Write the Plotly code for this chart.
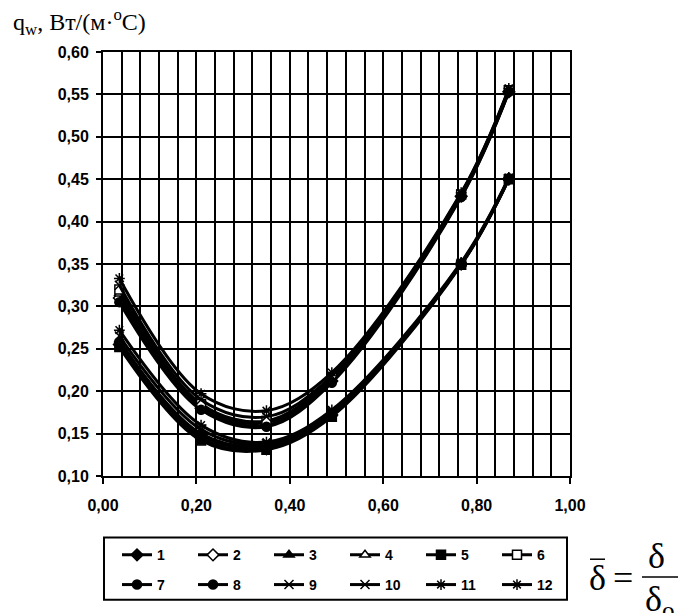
import plotly.graph_objects as go

# ---------------- data ----------------
x_rel = [0.035, 0.21, 0.35, 0.49, 0.767, 0.869]

series_names = ["1", "2", "3", "4", "5", "6", "7", "8", "9", "10", "11", "12"]

q1 = [0.255, 0.145, 0.132, 0.172, 0.350, 0.450]
q2 = [0.310, 0.180, 0.160, 0.212, 0.430, 0.553]
q3 = [0.260, 0.148, 0.134, 0.173, 0.350, 0.451]
q4 = [0.315, 0.182, 0.163, 0.214, 0.431, 0.554]
q5 = [0.252, 0.142, 0.131, 0.170, 0.349, 0.450]
q6 = [0.320, 0.185, 0.165, 0.216, 0.432, 0.555]
q7 = [0.258, 0.150, 0.136, 0.174, 0.350, 0.451]
q8 = [0.305, 0.178, 0.158, 0.210, 0.429, 0.553]
q9 = [0.265, 0.155, 0.138, 0.176, 0.351, 0.451]
q10 = [0.325, 0.190, 0.170, 0.218, 0.433, 0.556]
q11 = [0.272, 0.160, 0.140, 0.178, 0.352, 0.452]
q12 = [0.333, 0.197, 0.177, 0.222, 0.434, 0.557]

q_values = [q1, q2, q3, q4, q5, q6, q7, q8, q9, q10, q11, q12]

x_tick_vals = [0.0, 0.2, 0.4, 0.6, 0.8, 1.0]
y_tick_vals = [0.10, 0.15, 0.20, 0.25, 0.30, 0.35, 0.40, 0.45, 0.50, 0.55, 0.60]

# ---------------- styles ----------------
symbols = ["diamond", "diamond", "triangle-up", "triangle-up", "square", "square",
           "circle", "circle", "x-thin", "x-thin", "asterisk", "asterisk"]
fills = ["black", "white", "black", "white", "black", "white",
         "black", "black", "black", "black", "black", "black"]

W, H = 683, 613
L, R, T, B = 103, 113, 52, 133
PW, PH = W - L - R, H - T - B


def px(xp):
    return (xp - L) / PW


def py(yp):
    return (H - B - yp) / PH


fig = go.Figure()
for i, (name, q) in enumerate(zip(series_names, q_values)):
    fig.add_trace(go.Scatter(
        x=x_rel, y=q, name=name, mode="lines+markers",
        line=dict(color="black", width=3, shape="spline", smoothing=1.0),
        marker=dict(symbol=symbols[i], size=9, color=fills[i],
                    line=dict(color="black", width=1.5)),
        legend="legend" if i < 6 else "legend2",
        showlegend=True,
    ))

axis_font = dict(family="Liberation Sans, Arial", size=16, color="black", weight="bold")

fig.update_xaxes(
    range=[0, 1], tickvals=x_tick_vals, tickformat=".2f",
    showgrid=True, gridcolor="black", gridwidth=2,
    minor=dict(dtick=0.04, showgrid=True, gridcolor="black", gridwidth=2, ticks=""),
    showline=True, linecolor="black", linewidth=2, mirror=True,
    ticks="outside", ticklen=6, tickwidth=2, tickcolor="black",
    tickfont=axis_font, ticklabelstandoff=8, zeroline=False,
)
fig.update_yaxes(
    range=[0.1, 0.6], tickvals=y_tick_vals, tickformat=".2f",
    showgrid=True, gridcolor="black", gridwidth=2,
    showline=True, linecolor="black", linewidth=2, mirror=True,
    ticks="outside", ticklen=5, tickwidth=2, tickcolor="black",
    tickfont=axis_font, ticklabelstandoff=4, zeroline=False,
)

legend_common = dict(
    orientation="h", xref="paper", yref="paper", xanchor="left", yanchor="middle",
    entrywidth=31, entrywidthmode="pixels", itemwidth=30,
    font=dict(family="Liberation Sans, Arial", size=14, color="black", weight="bold"),
    bgcolor="rgba(0,0,0,0)", borderwidth=0, tracegroupgap=0,
)

serif = "Liberation Serif, Times New Roman"

fig.update_layout(
    width=W, height=H,
    margin=dict(l=L, r=R, t=T, b=B, pad=0),
    paper_bgcolor="white", plot_bgcolor="white",
    separators=",.",
    legend=dict(x=px(117), y=py(560), **legend_common),
    legend2=dict(x=px(117), y=py(590), **legend_common),
    shapes=[
        # legend frame
        dict(type="rect", xref="paper", yref="paper",
             x0=px(104), x1=px(567), y0=py(542), y1=py(605),
             line=dict(color="black", width=2)),
        # bar over delta
        dict(type="line", xref="paper", yref="paper",
             x0=px(590), x1=px(605), y0=py(564), y1=py(564),
             line=dict(color="black", width=1.5)),
        # fraction line
        dict(type="line", xref="paper", yref="paper",
             x0=px(642), x1=px(678), y0=py(582), y1=py(582),
             line=dict(color="black", width=1.5)),
    ],
    annotations=[
        dict(text="q<sub>w</sub>, Вт/(м·<sup>o</sup>С)", xref="paper", yref="paper",
             x=px(11), y=py(3), xanchor="left", yanchor="top", showarrow=False,
             font=dict(family=serif, size=24, color="black")),
        dict(text="δ", xref="paper", yref="paper", x=px(597), y=py(583),
             xanchor="center", yanchor="middle", showarrow=False,
             font=dict(family=serif, size=36, color="black")),
        dict(text="=", xref="paper", yref="paper", x=px(623), y=py(583),
             xanchor="center", yanchor="middle", showarrow=False,
             font=dict(family=serif, size=36, color="black")),
        dict(text="δ", xref="paper", yref="paper", x=px(656), y=py(561),
             xanchor="center", yanchor="middle", showarrow=False,
             font=dict(family=serif, size=36, color="black")),
        dict(text="δ<sub>o</sub>", xref="paper", yref="paper", x=px(643), y=py(607),
             xanchor="left", yanchor="middle", showarrow=False,
             font=dict(family=serif, size=36, color="black")),
    ],
)

fig.write_html("out.html")
